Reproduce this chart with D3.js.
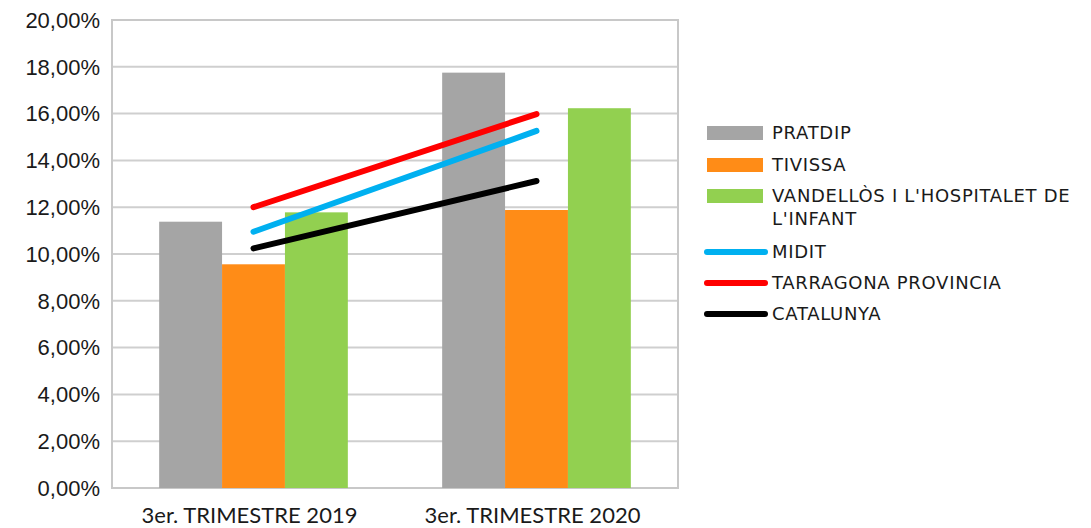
<!DOCTYPE html>
<html lang="ca">
<head>
    <meta charset="UTF-8">
    <title>Trimestres</title>
    <script src="https://cdn.jsdelivr.net/npm/d3@7"></script>
    <style>
        body { margin: 0; background: #fff; }
        svg { display: block; }
        .ylab { font-family: "Liberation Sans", Arial, sans-serif; font-size: 22px; fill: #1a1a1a; }
        .xlab { font-family: Lato, sans-serif; font-size: 22px; fill: #1a1a1a; }
        .leg { font-family: "DejaVu Sans", sans-serif; font-size: 18px; letter-spacing: 0.7px; fill: #1a1a1a; }
    </style>
</head>
<body>
<svg id="chart" width="1091" height="528"></svg>
<script>
    // data
    let categories = ["3er. TRIMESTRE 2019", "3er. TRIMESTRE 2020"];
    let barSeries = ["PRATDIP", "TIVISSA", "VANDELLÒS I L'HOSPITALET DE L'INFANT"];
    let pratdip = [11.38, 17.75];
    let tivissa = [9.56, 11.88];
    let vandellos = [11.78, 16.23];
    let lineSeries = ["MIDIT", "TARRAGONA PROVINCIA", "CATALUNYA"];
    let midit = [10.95, 15.26];
    let tarragona = [12.0, 15.98];
    let catalunya = [10.24, 13.12];
    let yTicks = [0, 2, 4, 6, 8, 10, 12, 14, 16, 18, 20];

    let barColors = ["#a5a5a5", "#ff8c17", "#92d050"];
    let lineColors = ["#00b0f0", "#ff0000", "#000000"];

    let svg = d3.select("#chart");
    let pLeft = 112, pRight = 678, pTop = 20, pBottom = 488;

    let y = d3.scaleLinear().domain([0, 20]).range([pBottom, pTop]);
    let x = d3.scaleBand().domain(categories).range([pLeft, pRight]);
    let xIn = d3.scaleBand().domain(barSeries).range([0, x.bandwidth()]).paddingOuter(0.75);

    // grid
    svg.append("g").selectAll("line").data(yTicks).enter().append("line")
        .attr("x1", pLeft).attr("x2", pRight)
        .attr("y1", d => y(d)).attr("y2", d => y(d))
        .attr("stroke", "#cfcfcf").attr("stroke-width", 2);
    svg.append("rect").attr("x", pLeft).attr("y", pTop)
        .attr("width", pRight - pLeft).attr("height", pBottom - pTop)
        .attr("fill", "none").attr("stroke", "#c8c8c8").attr("stroke-width", 2);

    // y labels
    svg.append("g").selectAll("text").data(yTicks).enter().append("text")
        .attr("class", "ylab")
        .attr("x", 100).attr("y", d => y(d)).attr("dy", "0.35em")
        .attr("text-anchor", "end")
        .text(d => d.toFixed(2).replace(".", ",") + "%");

    // bars
    let barData = [pratdip, tivissa, vandellos];
    barData.forEach(function (vals, i) {
        svg.append("g").selectAll("rect").data(vals).enter().append("rect")
            .attr("x", (d, j) => x(categories[j]) + xIn(barSeries[i]))
            .attr("width", xIn.bandwidth())
            .attr("y", d => y(d))
            .attr("height", d => y(0) - y(d))
            .attr("fill", barColors[i]);
    });

    // lines
    let lineData = [midit, tarragona, catalunya];
    let line = d3.line()
        .x((d, j) => x(categories[j]) + x.bandwidth() / 2)
        .y(d => y(d));
    lineData.forEach(function (vals, i) {
        svg.append("path").datum(vals)
            .attr("d", line)
            .attr("fill", "none")
            .attr("stroke", lineColors[i])
            .attr("stroke-width", 6)
            .attr("stroke-linecap", "round");
    });

    // x labels
    svg.append("g").selectAll("text").data(categories).enter().append("text")
        .attr("class", "xlab")
        .attr("x", d => x(d) + x.bandwidth() / 2 - 4)
        .attr("y", 523)
        .attr("text-anchor", "middle")
        .text(d => d);

    // legend
    let legRows = [
        {name: "PRATDIP", type: "bar", color: barColors[0], y: 133},
        {name: "TIVISSA", type: "bar", color: barColors[1], y: 165},
        {name: "VANDELLÒS I L'HOSPITALET DE", name2: "L'INFANT", type: "bar", color: barColors[2], y: 196},
        {name: "MIDIT", type: "line", color: lineColors[0], y: 252},
        {name: "TARRAGONA PROVINCIA", type: "line", color: lineColors[1], y: 283},
        {name: "CATALUNYA", type: "line", color: lineColors[2], y: 314}
    ];
    let leg = svg.append("g");
    legRows.forEach(function (r) {
        if (r.type === "bar") {
            leg.append("rect").attr("x", 707).attr("y", r.y - 7)
                .attr("width", 56).attr("height", 14).attr("fill", r.color);
        } else {
            leg.append("line").attr("x1", 707).attr("x2", 765)
                .attr("y1", r.y).attr("y2", r.y)
                .attr("stroke", r.color).attr("stroke-width", 6)
                .attr("stroke-linecap", "round");
        }
        leg.append("text").attr("class", "leg")
            .attr("x", 772).attr("y", r.y).attr("dy", "0.36em")
            .text(r.name);
        if (r.name2) {
            leg.append("text").attr("class", "leg")
                .attr("x", 772).attr("y", r.y + 23).attr("dy", "0.36em")
                .text(r.name2);
        }
    });
</script>
</body>
</html>
